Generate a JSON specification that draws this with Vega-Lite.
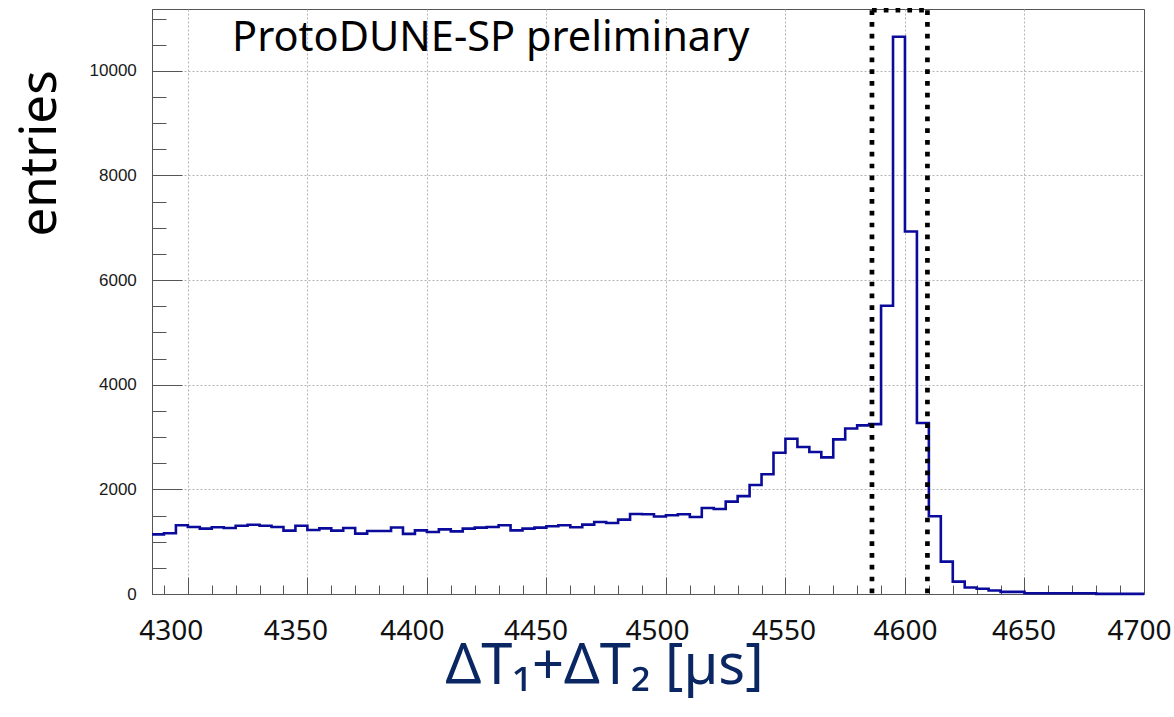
{
  "$schema": "https://vega.github.io/schema/vega-lite/v6.json",
  "width": 992,
  "height": 585,
  "autosize": {"type": "none"},
  "padding": {"left": 152, "top": 9, "right": 30, "bottom": 123},
  "background": "white",
  "config": {"view": {"stroke": "#555555", "strokeWidth": 1}},
  "datasets": {
    "hist": [
      {"x": 4285, "y": 1140}, {"x": 4290, "y": 1160}, {"x": 4295, "y": 1313}, {"x": 4300, "y": 1281},
      {"x": 4305, "y": 1249}, {"x": 4310, "y": 1275}, {"x": 4315, "y": 1262}, {"x": 4320, "y": 1306},
      {"x": 4325, "y": 1325}, {"x": 4330, "y": 1306}, {"x": 4335, "y": 1281}, {"x": 4340, "y": 1211},
      {"x": 4345, "y": 1306}, {"x": 4350, "y": 1224}, {"x": 4355, "y": 1255}, {"x": 4360, "y": 1211},
      {"x": 4365, "y": 1262}, {"x": 4370, "y": 1154}, {"x": 4375, "y": 1205}, {"x": 4380, "y": 1205},
      {"x": 4385, "y": 1270}, {"x": 4390, "y": 1150}, {"x": 4395, "y": 1217}, {"x": 4400, "y": 1186},
      {"x": 4405, "y": 1236}, {"x": 4410, "y": 1198}, {"x": 4415, "y": 1249}, {"x": 4420, "y": 1268},
      {"x": 4425, "y": 1281}, {"x": 4430, "y": 1313}, {"x": 4435, "y": 1217}, {"x": 4440, "y": 1249},
      {"x": 4445, "y": 1268}, {"x": 4450, "y": 1294}, {"x": 4455, "y": 1313}, {"x": 4460, "y": 1275},
      {"x": 4465, "y": 1326}, {"x": 4470, "y": 1377}, {"x": 4475, "y": 1358}, {"x": 4480, "y": 1421},
      {"x": 4485, "y": 1530}, {"x": 4490, "y": 1525}, {"x": 4495, "y": 1480}, {"x": 4500, "y": 1504},
      {"x": 4505, "y": 1523}, {"x": 4510, "y": 1473}, {"x": 4515, "y": 1645}, {"x": 4520, "y": 1626},
      {"x": 4525, "y": 1765}, {"x": 4530, "y": 1870}, {"x": 4535, "y": 2084}, {"x": 4540, "y": 2288},
      {"x": 4545, "y": 2700}, {"x": 4550, "y": 2968}, {"x": 4555, "y": 2810}, {"x": 4560, "y": 2714},
      {"x": 4565, "y": 2611}, {"x": 4570, "y": 2955}, {"x": 4575, "y": 3163}, {"x": 4580, "y": 3223},
      {"x": 4585, "y": 3248}, {"x": 4590, "y": 5509}, {"x": 4595, "y": 10653}, {"x": 4600, "y": 6929},
      {"x": 4605, "y": 3268}, {"x": 4610, "y": 1485}, {"x": 4615, "y": 619}, {"x": 4620, "y": 237},
      {"x": 4625, "y": 125}, {"x": 4630, "y": 100}, {"x": 4635, "y": 68}, {"x": 4640, "y": 40},
      {"x": 4645, "y": 40}, {"x": 4650, "y": 14}, {"x": 4655, "y": 14}, {"x": 4660, "y": 14},
      {"x": 4665, "y": 14}, {"x": 4670, "y": 14}, {"x": 4675, "y": 14}, {"x": 4680, "y": 3},
      {"x": 4685, "y": 3}, {"x": 4690, "y": 3}, {"x": 4695, "y": 3}, {"x": 4700, "y": 3}
    ],
    "window": [
      {"x": 4586.2, "x2": 4586.2, "y": 11158, "y2": -50},
      {"x": 4609.4, "x2": 4609.4, "y": 11158, "y2": -50},
      {"x": 4586.2, "x2": 4609.4, "y": 11158, "y2": 11158}
    ],
    "note": [{"x": 4318.5, "y": 10386, "text": "ProtoDUNE-SP preliminary"}]
  },
  "encoding": {
    "x": {
      "field": "x",
      "type": "quantitative",
      "scale": {"domain": [4285, 4700], "nice": false, "zero": false},
      "axis": {
        "values": [4290, 4300, 4310, 4320, 4330, 4340, 4350, 4360, 4370, 4380, 4390, 4400, 4410, 4420, 4430, 4440, 4450, 4460, 4470, 4480, 4490, 4500, 4510, 4520, 4530, 4540, 4550, 4560, 4570, 4580, 4590, 4600, 4610, 4620, 4630, 4640, 4650, 4660, 4670, 4680, 4690, 4700],
        "format": "d",
        "labelExpr": "datum.value % 50 === 0 ? datum.label : ''",
        "tickSize": {"condition": {"test": "datum.value % 50 === 0", "value": -17}, "value": -9},
        "tickColor": "#555555",
        "tickWidth": 1,
        "labelPadding": 62,
        "labelBaseline": "alphabetic",
        "labelAlign": "center",
        "labelFlush": false,
        "labelOverlap": false,
        "labelBound": false,
        "labelOffset": {
          "condition": [
            {"test": "datum.value === 4300", "value": -17},
            {"test": "datum.value === 4350", "value": -12},
            {"test": "datum.value === 4400", "value": -15},
            {"test": "datum.value === 4450", "value": -11},
            {"test": "datum.value === 4500", "value": -9},
            {"test": "datum.value === 4550", "value": -2},
            {"test": "datum.value === 4600", "value": 0},
            {"test": "datum.value === 4650", "value": -1}
          ],
          "value": -5
        },
        "labelFont": "Noto Sans",
        "labelFontSize": 28,
        "labelColor": "#111111",
        "grid": true,
        "gridColor": "#b4b4b4",
        "gridDash": [2, 2],
        "gridWidth": 1,
        "gridOpacity": {"condition": {"test": "datum.value % 50 === 0 && datum.value < 4700", "value": 1}, "value": 0},
        "domainColor": "#555555",
        "title": "ΔT₁+ΔT₂ [µs]",
        "titleFont": "Noto Sans",
        "titleFontSize": 56,
        "titleFontWeight": "normal",
        "titleColor": "#0b2763",
        "titleX": 452,
        "titleY": 89,
        "titleAlign": "center",
        "titleBaseline": "alphabetic"
      }
    },
    "y": {
      "field": "y",
      "type": "quantitative",
      "scale": {"domain": [0, 11182], "nice": false},
      "axis": {
        "values": [0, 500, 1000, 1500, 2000, 2500, 3000, 3500, 4000, 4500, 5000, 5500, 6000, 6500, 7000, 7500, 8000, 8500, 9000, 9500, 10000, 10500, 11000],
        "format": "d",
        "labelExpr": "datum.value % 2000 === 0 ? datum.label : ''",
        "tickSize": {"condition": {"test": "datum.value % 2000 === 0", "value": -30}, "value": -14},
        "tickColor": "#555555",
        "tickWidth": 1,
        "labelPadding": 45.7,
        "labelAlign": "right",
        "labelBaseline": "middle",
        "labelFlush": false,
        "labelOverlap": false,
        "labelBound": false,
        "labelFont": "Liberation Sans",
        "labelFontSize": 17,
        "labelColor": "#1a1a1a",
        "grid": true,
        "gridColor": "#b4b4b4",
        "gridDash": [2, 2],
        "gridWidth": 1,
        "gridOpacity": {"condition": {"test": "datum.value % 2000 === 0 && datum.value > 0", "value": 1}, "value": 0},
        "domainColor": "#555555",
        "title": "entries",
        "titleFont": "Noto Sans",
        "titleFontSize": 51,
        "titleFontWeight": "normal",
        "titleColor": "#000000",
        "titleAngle": -90,
        "titleX": -97,
        "titleY": 144,
        "titleAlign": "center",
        "titleBaseline": "alphabetic"
      }
    }
  },
  "layer": [
    {
      "data": {"name": "hist"},
      "mark": {"type": "line", "interpolate": "step-after", "color": "#0b0b9b", "strokeWidth": 2.6}
    },
    {
      "data": {"name": "window"},
      "mark": {"type": "rule", "color": "#000000", "strokeWidth": 4.7, "strokeDash": [4.7, 7.1], "strokeCap": "butt"},
      "encoding": {
        "x2": {"field": "x2"},
        "y2": {"field": "y2"}
      }
    },
    {
      "data": {"name": "note"},
      "mark": {"type": "text", "align": "left", "baseline": "alphabetic", "font": "Noto Sans", "fontSize": 41.5, "color": "#000000"},
      "encoding": {
        "text": {"field": "text"}
      }
    }
  ]
}
